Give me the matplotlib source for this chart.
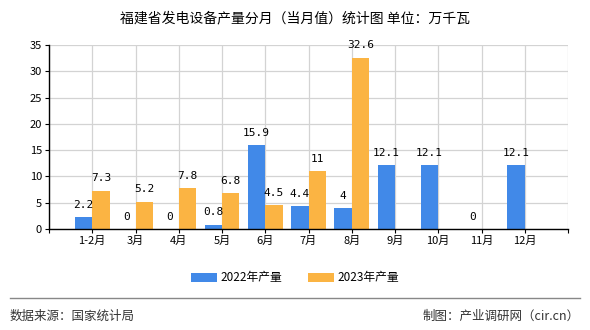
import matplotlib.pyplot as plt
import numpy as np
from matplotlib.lines import Line2D

plt.rcParams['font.family'] = ['Noto Sans CJK SC', 'DejaVu Sans']

# ---- data ----
months = ['1-2月', '3月', '4月', '5月', '6月', '7月', '8月', '9月', '10月', '11月', '12月']
prod_2022 = [2.2, 0, 0, 0.8, 15.9, 4.4, 4, 12.1, 12.1, 0, 12.1]
prod_2023 = [7.3, 5.2, 7.8, 6.8, 4.5, 11, 32.6, None, None, None, None]
yticks = [0, 5, 10, 15, 20, 25, 30, 35]

c22 = '#4189e8'
c23 = '#fbb443'

fig = plt.figure(figsize=(5.9, 3.3), dpi=100)
ax = fig.add_axes([49 / 590, 1 - 229 / 330, 519 / 590, 184 / 330])

x = np.arange(len(months))
w = 0.4
ax.bar(x - w / 2, prod_2022, w, color=c22, zorder=2, label='2022年产量')
v23 = [np.nan if v is None else v for v in prod_2023]
ax.bar(x + w / 2, v23, w, color=c23, zorder=2, label='2023年产量')

for xi, v in zip(x, prod_2022):
    ax.text(xi - w / 2, v + 1.4, f'{v:g}', ha='center', va='bottom', fontsize=8,
            family=['DejaVu Sans Mono'])
for xi, v in zip(x, prod_2023):
    if v is not None:
        ax.text(xi + w / 2, v + 1.4, f'{v:g}', ha='center', va='bottom', fontsize=8,
                family=['DejaVu Sans Mono'])

ax.set_xlim(-1, 11)
ax.set_ylim(0, 35)
ax.set_yticks(yticks)
ax.set_xticks(np.arange(-1, 12))
ax.set_xticklabels([''] + months + [''])
ax.grid(True, color='#d3d3d3', linewidth=0.9, zorder=0)
ax.set_axisbelow(True)
for s in ['top', 'right']:
    ax.spines[s].set_visible(False)
ax.spines['left'].set_linewidth(1.0)
ax.spines['bottom'].set_linewidth(1.0)
ax.tick_params(axis='both', labelsize=8, length=3, width=0.8, pad=2)

fig.text(0.5, 1 - 18 / 330, '福建省发电设备产量分月（当月值）统计图 单位：万千瓦',
         ha='center', va='center', fontsize=10)

fig.legend(loc='center', bbox_to_anchor=(0.5, 1 - 278 / 330), ncol=2, frameon=False,
           fontsize=8.5, handlelength=2.2, handleheight=0.8, columnspacing=2.2,
           handletextpad=0.3)

fig.add_artist(Line2D([10 / 590, 580 / 590], [1 - 298 / 330] * 2, color='#888888',
                      linewidth=1.0))
fig.text(10 / 590, 1 - 316 / 330, '数据来源：国家统计局', ha='left', va='center',
         fontsize=9, color='#333333')
fig.text(580 / 590, 1 - 316 / 330, '制图：产业调研网（cir.cn）', ha='right', va='center',
         fontsize=9, color='#333333')

fig.savefig('out.png', dpi=100)
